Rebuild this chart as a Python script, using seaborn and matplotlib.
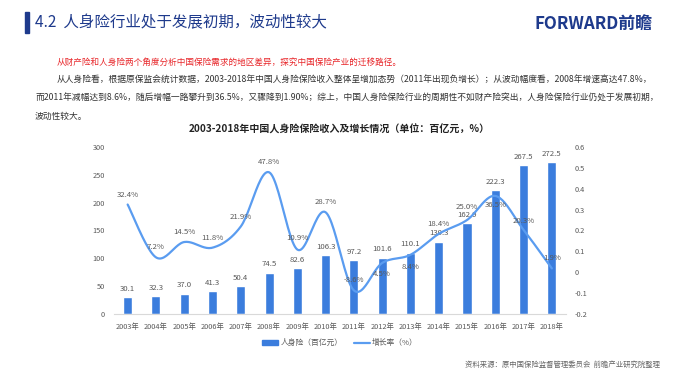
import numpy as np
import pandas as pd
import matplotlib
matplotlib.use("Agg")
import matplotlib.pyplot as plt
from matplotlib.patches import Rectangle
from matplotlib.lines import Line2D
import seaborn as sns

# Data
years = [f"{y}年" for y in range(2003, 2019)]
income = [30.1, 32.3, 37.0, 41.3, 50.4, 74.5, 82.6, 106.3,
          97.2, 101.6, 110.1, 130.3, 162.9, 222.3, 267.5, 272.5]
growth = [32.4, 7.2, 14.5, 11.8, 21.9, 47.8, 10.9, 28.7,
          -8.6, 4.5, 8.4, 18.4, 25.0, 36.5, 20.3, 1.9]
left_ticks = [0, 50, 100, 150, 200, 250, 300]
right_ticks = [-0.2, -0.1, 0, 0.1, 0.2, 0.3, 0.4, 0.5, 0.6]

sns.set_style("white")
plt.rcParams['font.family'] = ['Noto Sans CJK SC', 'DejaVu Sans']

W, H = 680, 376
fig = plt.figure(figsize=(W / 100, H / 100), dpi=100)


def px(x, y):
    return x / W, 1 - y / H


navy = "#1e3a8c"
bar_c = "#3b7ddd"
line_c = "#5a9cf0"
gray = "#595959"

# Kopfzeile
fig.patches.append(Rectangle(px(25, 33), 4 / W, 21 / H, transform=fig.transFigure,
                             color=navy))
fig.text(*px(35, 23), "4.2  人身险行业处于发展初期，波动性较大", fontsize=11.2,
         color=navy, va="center", ha="left")
fig.text(*px(653, 24), "FORWARD前瞻", fontsize=12.2, fontweight="bold",
         color=navy, va="center", ha="right")

# Textabsatz
fig.text(*px(57, 62), "从财产险和人身险两个角度分析中国保险需求的地区差异，探究中国保险产业的迁移路径。",
         fontsize=6.2, color="#e8262a", va="center")
para = [
    (57, 80, "从人身险看，根据原保监会统计数据，2003-2018年中国人身险保险收入整体呈增加态势（2011年出现负增长）；从波动幅度看，2008年增速高达47.8%，"),
    (35, 98, "而2011年减幅达到8.6%，随后增幅一路攀升到36.5%，又骤降到1.90%；综上，中国人身险保险行业的周期性不如财产险突出，人身险保险行业仍处于发展初期，"),
    (35, 116, "波动性较大。"),
]
for x, y, t in para:
    fig.text(*px(x, y), t, fontsize=6.3, color="#333333", va="center")

fig.text(*px(339, 130), "2003-2018年中国人身险保险收入及增长情况（单位：百亿元，%）",
         fontsize=7.2, fontweight="bold", color="#222222", ha="center", va="center")

# Diagramm
x0, x1, ytop, ybot = 113.5, 566, 146.7, 314.3
ax = fig.add_axes([x0 / W, 1 - ybot / H, (x1 - x0) / W, (ybot - ytop) / H])
df = pd.DataFrame({"year": years, "income": income})
sns.barplot(data=df, x="year", y="income", color=bar_c, width=0.32,
            saturation=1, ax=ax)
ax.set_xlim(-0.5, len(years) - 0.5)
ax.set_ylim(0, 300)
ax.set_yticks(left_ticks)
ax.set_xlabel("")
ax.set_ylabel("")
ax.tick_params(axis="both", length=0, labelsize=5.3, labelcolor=gray)
ax.tick_params(axis="x", pad=6)
ax.tick_params(axis="y", pad=6)
for s in ["top", "right", "left"]:
    ax.spines[s].set_visible(False)
ax.spines["bottom"].set_color("#d9d9d9")
ax.spines["bottom"].set_linewidth(0.8)
for i, v in enumerate(income):
    ax.annotate(f"{v:.1f}", (i, v), xytext=(0, 6), textcoords="offset points",
                ha="center", va="center", fontsize=5.6, color=gray)

ax2 = ax.twinx()
ax2.set_ylim(-0.2, 0.6)
ax2.set_yticks(right_ticks)
ax2.set_yticklabels([f"{t:g}" for t in right_ticks])
ax2.tick_params(axis="y", length=0, labelsize=5.3, labelcolor=gray, pad=6)
for s in ax2.spines.values():
    s.set_visible(False)

# geglättete Linie (Bezier-Segmente durch die Messpunkte)
gx = np.arange(len(growth), dtype=float)
gy = np.array(growth) / 100
P = np.vstack([gx, gy]).T
P = np.vstack([P[0], P, P[-1]])
xs, ys = [], []
t = np.linspace(0, 1, 25)
for k in range(1, len(P) - 2):
    p0, p1, p2, p3 = P[k - 1], P[k], P[k + 1], P[k + 2]
    c1 = p1 + (p2 - p0) / 6
    c2 = p2 - (p3 - p1) / 6
    seg = ((1 - t) ** 3)[:, None] * p1 + (3 * (1 - t) ** 2 * t)[:, None] * c1 \
        + (3 * (1 - t) * t ** 2)[:, None] * c2 + (t ** 3)[:, None] * p2
    xs.extend(seg[:, 0])
    ys.extend(seg[:, 1])
ax2.plot(xs, ys, color=line_c, lw=1.6, solid_capstyle="round")

# Beschriftungen der Wachstumsraten (Versatz in Punkten)
offs = {9: -8, 10: -9, 13: -6.5, 6: 8.5, 14: 6.5, 12: 9.5}
for i, g in enumerate(growth):
    ax2.annotate(f"{g:.1f}%", (i, g / 100), xytext=(0, offs.get(i, 7.2)),
                 textcoords="offset points", ha="center", va="center",
                 fontsize=5.6, color=gray)

# Legende
handles = [Rectangle((0, 0), 1, 1, color=bar_c),
           Line2D([0], [0], color=line_c, lw=1.6)]
fig.legend(handles, ["人身险（百亿元）", "增长率（%）"], loc="center",
           bbox_to_anchor=px(340, 343), ncol=2, frameon=False, fontsize=5.6,
           handlelength=2.0, handleheight=0.5, columnspacing=1.5,
           labelcolor=gray, handletextpad=0.3)

fig.text(*px(660, 365), "资料来源：原中国保险监督管理委员会  前瞻产业研究院整理",
         fontsize=5.3, color="#666666", ha="right", va="center")

fig.savefig("out.png", dpi=100)
